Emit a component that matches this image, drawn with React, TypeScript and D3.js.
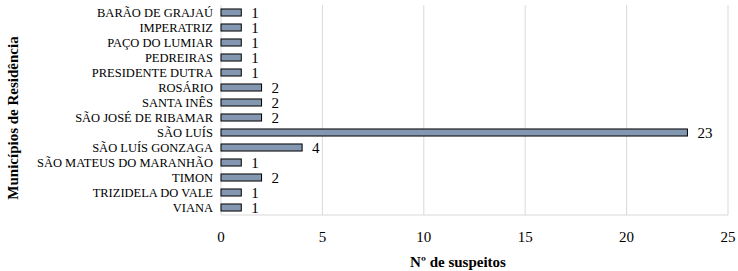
import React from "react";
import * as d3 from "d3";

const municipios = [
  "BARÃO DE GRAJAÚ",
  "IMPERATRIZ",
  "PAÇO DO LUMIAR",
  "PEDREIRAS",
  "PRESIDENTE DUTRA",
  "ROSÁRIO",
  "SANTA INÊS",
  "SÃO JOSÉ DE RIBAMAR",
  "SÃO LUÍS",
  "SÃO LUÍS GONZAGA",
  "SÃO MATEUS DO MARANHÃO",
  "TIMON",
  "TRIZIDELA DO VALE",
  "VIANA",
];
const suspeitos = [1, 1, 1, 1, 1, 2, 2, 2, 23, 4, 1, 2, 1, 1];
const xTicks = [0, 5, 10, 15, 20, 25];

const W = 738;
const H = 271;
const m = { left: 221, right: 10, top: 5, bottom: 56 };
const serif = {
  fontFamily: "'Liberation Serif', 'Times New Roman', 'DejaVu Serif', serif",
};

export default function App() {
  const x = d3.scaleLinear().domain([0, 25]).range([m.left, W - m.right]);
  const y = d3
    .scaleBand()
    .domain(municipios)
    .range([m.top, H - m.bottom])
    .paddingInner(0.53)
    .paddingOuter(0.265);
  const bottom = H - m.bottom;

  return (
    <svg
      width={W}
      height={H}
      style={{ position: "absolute", left: 0, top: 0, background: "#fff" }}
    >
      {/* gridlines */}
      {xTicks.map((t) => (
        <line
          key={t}
          x1={x(t)}
          x2={x(t)}
          y1={m.top}
          y2={bottom}
          stroke="#d9d9d9"
          strokeWidth={1}
        />
      ))}
      <line x1={m.left} x2={x(25)} y1={bottom} y2={bottom} stroke="#d9d9d9" />

      {/* bars */}
      {municipios.map((c, i) => (
        <g key={c}>
          <rect
            x={x(0)}
            y={y(c)!}
            width={x(suspeitos[i]) - x(0)}
            height={y.bandwidth()}
            fill="#8497b0"
            stroke="#000"
            strokeWidth={1}
          />
          <text
            x={x(suspeitos[i]) + 10}
            y={y(c)! + y.bandwidth() / 2}
            dy="0.36em"
            fontSize={15}
            fill="#000"
            style={serif}
          >
            {suspeitos[i]}
          </text>
          <text
            x={m.left - 8}
            y={y(c)! + y.bandwidth() / 2}
            dy="0.35em"
            fontSize={12.5}
            textAnchor="end"
            fill="#000"
            style={serif}
          >
            {c}
          </text>
        </g>
      ))}

      {/* x tick labels */}
      {xTicks.map((t) => (
        <text
          key={t}
          x={x(t)}
          y={bottom + 22}
          dy="0.35em"
          fontSize={15}
          textAnchor="middle"
          fill="#000"
          style={serif}
        >
          {t}
        </text>
      ))}

      <text
        x={458}
        y={262}
        dy="0.35em"
        fontSize={15}
        fontWeight="bold"
        textAnchor="middle"
        style={serif}
      >
        Nº de suspeitos
      </text>
      <text
        transform={`translate(13,118) rotate(-90)`}
        dy="0.35em"
        fontSize={15}
        fontWeight="bold"
        textAnchor="middle"
        style={serif}
      >
        Municípios de Residência
      </text>
    </svg>
  );
}
